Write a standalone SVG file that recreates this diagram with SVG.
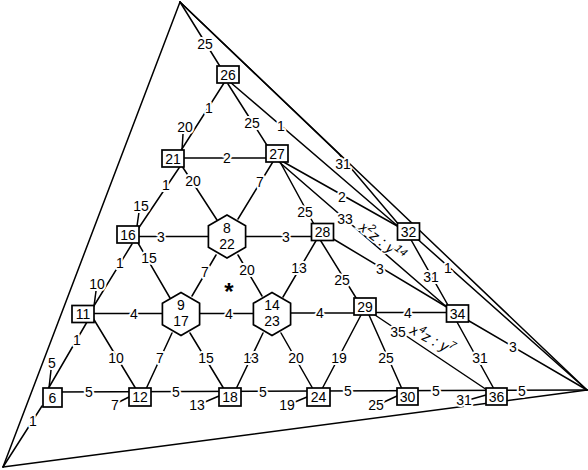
<svg xmlns="http://www.w3.org/2000/svg" width="588" height="470" viewBox="0 0 588 470">
<style>
.e{stroke:#000;stroke-width:1.5;fill:none;stroke-linecap:round}
.n rect,.n polygon{fill:#fff;stroke:#000;stroke-width:1.7}
text{font-family:"Liberation Sans",Arial,Helvetica,sans-serif;font-size:14px;fill:#000}
.l{text-anchor:middle;stroke:#fff;stroke-width:4;paint-order:stroke;stroke-linejoin:round}
.t{text-anchor:middle}
.i{font-style:italic;font-size:15px;stroke:#fff;stroke-width:3;paint-order:stroke}
.s{text-anchor:middle;font-size:24px;font-weight:bold}
</style>
<rect width="588" height="470" fill="#fff"/>
<g id="connectors">
<line class="e" x1="180" y1="2" x2="3" y2="467"/>
<line class="e" x1="3" y1="467" x2="587" y2="390"/>
<line class="e" x1="180" y1="2" x2="587" y2="390"/>
<path class="e" d="M180,2 L339,154 L400,226"/>
<line class="e" x1="180" y1="2" x2="221" y2="68"/>
<line class="e" x1="224" y1="83" x2="180" y2="152"/>
<line class="e" x1="228" y1="84" x2="270" y2="150"/>
<line class="e" x1="230" y1="82" x2="400" y2="228"/>
<line class="e" x1="182" y1="150" x2="183" y2="134"/>
<line class="e" x1="183" y1="158" x2="267" y2="158"/>
<line class="e" x1="181" y1="165" x2="138" y2="229"/>
<line class="e" x1="180" y1="163" x2="217" y2="220"/>
<line class="e" x1="274" y1="160" x2="238" y2="219"/>
<line class="e" x1="279" y1="160" x2="316" y2="228"/>
<line class="e" x1="280" y1="160" x2="399" y2="227"/>
<line class="e" x1="278" y1="161" x2="449" y2="309"/>
<line class="e" x1="137" y1="226" x2="139" y2="212"/>
<line class="e" x1="139" y1="236.5" x2="208" y2="236.5"/>
<line class="e" x1="246" y1="236.5" x2="312" y2="236.5"/>
<line class="e" x1="138" y1="243" x2="170" y2="298"/>
<line class="e" x1="132" y1="244" x2="92" y2="309"/>
<line class="e" x1="216" y1="255" x2="192" y2="296"/>
<line class="e" x1="238" y1="255" x2="262" y2="296"/>
<line class="e" x1="317" y1="239" x2="283" y2="297"/>
<line class="e" x1="319" y1="238" x2="358" y2="301"/>
<line class="e" x1="330" y1="237" x2="450" y2="309"/>
<line class="e" x1="410" y1="238" x2="449" y2="307"/>
<line class="e" x1="414" y1="236" x2="587" y2="390"/>
<line class="e" x1="94" y1="306" x2="96" y2="291"/>
<line class="e" x1="93" y1="313.5" x2="163" y2="313.5"/>
<line class="e" x1="199" y1="313.5" x2="254" y2="313.5"/>
<line class="e" x1="290" y1="313" x2="354" y2="313"/>
<line class="e" x1="376" y1="312.5" x2="447" y2="312.5"/>
<line class="e" x1="93" y1="318" x2="136" y2="389"/>
<line class="e" x1="87" y1="322" x2="48" y2="389"/>
<line class="e" x1="49" y1="388" x2="51" y2="370"/>
<line class="e" x1="172" y1="333" x2="146" y2="389"/>
<line class="e" x1="190" y1="333" x2="224" y2="389"/>
<line class="e" x1="263" y1="333" x2="236" y2="389"/>
<line class="e" x1="281" y1="333" x2="313" y2="389"/>
<line class="e" x1="361" y1="315" x2="322" y2="389"/>
<line class="e" x1="369" y1="315" x2="402" y2="389"/>
<line class="e" x1="372" y1="313" x2="490" y2="392"/>
<line class="e" x1="457" y1="322" x2="494" y2="389"/>
<line class="e" x1="464" y1="318" x2="587" y2="390"/>
<line class="e" x1="52" y1="392" x2="587" y2="390"/>
<line class="e" x1="42" y1="406" x2="3" y2="467"/>
<line class="e" x1="129" y1="397" x2="119" y2="402"/>
<line class="e" x1="219" y1="396" x2="205" y2="402"/>
<line class="e" x1="307" y1="397" x2="295" y2="402"/>
<line class="e" x1="397" y1="396" x2="384" y2="402"/>
<line class="e" x1="486" y1="395" x2="472" y2="399"/>
<text class="l" x="205" y="49">25</text>
<text class="l" x="209" y="113">1</text>
<text class="l" x="252" y="128">25</text>
<text class="l" x="281" y="131">1</text>
<text class="l" x="343" y="169">31</text>
<text class="l" x="185" y="132">20</text>
<text class="l" x="227" y="163">2</text>
<text class="l" x="166" y="190">1</text>
<text class="l" x="193" y="186">20</text>
<text class="l" x="260" y="187">7</text>
<text class="l" x="305" y="217">25</text>
<text class="l" x="342" y="202">2</text>
<text class="l" x="345" y="224">33</text>
<text class="l" x="141" y="211">15</text>
<text class="l" x="161" y="241.5">3</text>
<text class="l" x="286" y="241.5">3</text>
<text class="l" x="149" y="263">15</text>
<text class="l" x="120" y="268">1</text>
<text class="l" x="205" y="277">7</text>
<text class="l" x="247" y="275">20</text>
<text class="l" x="299" y="273">13</text>
<text class="l" x="342" y="285">25</text>
<text class="l" x="380" y="274">3</text>
<text class="l" x="431" y="282">31</text>
<text class="l" x="448" y="273">1</text>
<text class="l" x="97" y="289">10</text>
<text class="l" x="134" y="318.5">4</text>
<text class="l" x="229" y="318.5">4</text>
<text class="l" x="320" y="318">4</text>
<text class="l" x="408" y="318">4</text>
<text class="l" x="116" y="363">10</text>
<text class="l" x="77" y="345">1</text>
<text class="l" x="52" y="368">5</text>
<text class="l" x="160" y="363">7</text>
<text class="l" x="206" y="363">15</text>
<text class="l" x="251" y="363">13</text>
<text class="l" x="296" y="363">20</text>
<text class="l" x="339" y="363">19</text>
<text class="l" x="386" y="363">25</text>
<text class="l" x="398" y="337">35</text>
<text class="l" x="480" y="363">31</text>
<text class="l" x="513" y="352">3</text>
<text class="l" x="89" y="396.5">5</text>
<text class="l" x="176" y="396.5">5</text>
<text class="l" x="263" y="396.5">5</text>
<text class="l" x="348" y="396">5</text>
<text class="l" x="436" y="396">5</text>
<text class="l" x="522" y="395.5">5</text>
<text class="l" x="33" y="426">1</text>
<text class="l" x="115" y="410">7</text>
<text class="l" x="197" y="410">13</text>
<text class="l" x="287" y="410">19</text>
<text class="l" x="376" y="410">25</text>
<text class="l" x="464" y="405">31</text>
<text class="i" transform="translate(358,229) rotate(38)">x<tspan dy="-6" font-size="11">2</tspan><tspan dy="6">z : y</tspan><tspan dy="-6" font-size="11">14</tspan></text>
<text class="i" transform="translate(409,333) rotate(28)">x<tspan dy="-6" font-size="11">4</tspan><tspan dy="6">z : y</tspan><tspan dy="-6" font-size="11">7</tspan></text>
</g>
<text class="s" x="229" y="300">*</text>
<g id="n26" class="n"><rect x="217" y="66" width="22" height="17"/><text class="t" x="228" y="79.5">26</text></g>
<g id="n21" class="n"><rect x="162" y="150" width="22" height="17"/><text class="t" x="173" y="163.5">21</text></g>
<g id="n27" class="n"><rect x="266" y="145" width="22" height="17"/><text class="t" x="277" y="158.5">27</text></g>
<g id="n16" class="n"><rect x="117" y="226" width="22" height="17"/><text class="t" x="128" y="239.5">16</text></g>
<g id="n8-22" class="n"><polygon points="227,215 245.6,225.75 245.6,247.25 227,258 208.4,247.25 208.4,225.75"/><text class="t" x="227" y="232.5">8</text><text class="t" x="227" y="248.5">22</text></g>
<g id="n28" class="n"><rect x="311.5" y="223.5" width="22" height="17"/><text class="t" x="322.5" y="237">28</text></g>
<g id="n32" class="n"><rect x="397.5" y="223" width="22" height="17"/><text class="t" x="408.5" y="236.5">32</text></g>
<g id="n11" class="n"><rect x="72" y="305.5" width="22" height="17"/><text class="t" x="83" y="319">11</text></g>
<g id="n9-17" class="n"><polygon points="181,292.5 199.6,303.25 199.6,324.75 181,335.5 162.4,324.75 162.4,303.25"/><text class="t" x="181" y="310">9</text><text class="t" x="181" y="326">17</text></g>
<g id="n14-23" class="n"><polygon points="272,292.5 290.6,303.25 290.6,324.75 272,335.5 253.4,324.75 253.4,303.25"/><text class="t" x="272" y="310">14</text><text class="t" x="272" y="326">23</text></g>
<g id="n29" class="n"><rect x="354" y="298" width="22" height="17"/><text class="t" x="365" y="311.5">29</text></g>
<g id="n34" class="n"><rect x="446.5" y="305" width="22" height="17"/><text class="t" x="457.5" y="318.5">34</text></g>
<g id="n6" class="n"><rect x="43" y="388" width="19" height="19"/><text class="t" x="52.5" y="402.5">6</text></g>
<g id="n12" class="n"><rect x="129" y="388" width="22" height="18"/><text class="t" x="140" y="402">12</text></g>
<g id="n18" class="n"><rect x="219" y="388" width="22" height="18"/><text class="t" x="230" y="402">18</text></g>
<g id="n24" class="n"><rect x="307" y="388" width="23" height="18"/><text class="t" x="318.5" y="402">24</text></g>
<g id="n30" class="n"><rect x="397" y="388" width="21" height="17"/><text class="t" x="407.5" y="401.5">30</text></g>
<g id="n36" class="n"><rect x="486" y="388" width="21" height="17"/><text class="t" x="496.5" y="401.5">36</text></g>
</svg>
